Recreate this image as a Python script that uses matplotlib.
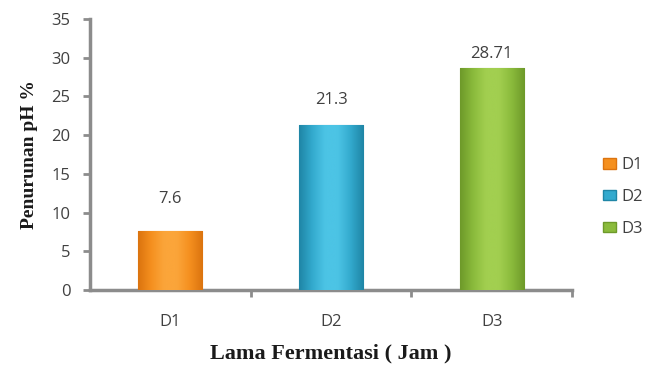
import matplotlib
matplotlib.use("Agg")
import matplotlib.pyplot as plt
import numpy as np
from matplotlib.colors import LinearSegmentedColormap
from matplotlib.patches import Patch

categories = ["D1", "D2", "D3"]
values = [7.6, 21.3, 28.71]
value_labels = ["7.6", "21.3", "28.71"]
yticks = [0, 5, 10, 15, 20, 25, 30, 35]

base_colors = ["#F5901F", "#33AACE", "#8BBB3C"]
dark_colors = ["#DC740F", "#1F86A6", "#6E9A2A"]
light_colors = ["#FBA53A", "#4CC4E5", "#A2CF50"]
label_offsets = [24, 17, 6]  # pixels above bar top

SANS = ["Open Sans", "DejaVu Sans"]

fig = plt.figure(figsize=(6.49, 3.65), dpi=100)
ax = fig.add_axes([90/649, 75/365, 482/649, 271/365])

x = np.arange(len(categories))
bars = ax.bar(x, values, width=0.4, color=base_colors, zorder=2)

for b, dc, bc, lc in zip(bars, dark_colors, base_colors, light_colors):
    cmap = LinearSegmentedColormap.from_list("g", [dc, bc, lc, lc, bc, dc])
    grad = np.linspace(0, 1, 64).reshape(1, -1)
    x0, y0 = b.get_x(), b.get_y()
    w, h = b.get_width(), b.get_height()
    im = ax.imshow(grad, cmap=cmap, extent=[x0, x0 + w, y0, y0 + h],
                   aspect="auto", zorder=3, interpolation="bicubic")
    im.set_clip_path(b)
    b.set_edgecolor(dc)
    b.set_linewidth(0.8)

for b, lab, off in zip(bars, value_labels, label_offsets):
    ax.annotate(lab, (b.get_x() + b.get_width()/2, b.get_height()),
                xytext=(0, off), textcoords="offset pixels",
                ha="center", va="bottom", fontsize=12,
                color="#404040", family=SANS)

ax.set_xlim(-0.5, len(categories) - 0.5)
ax.set_ylim(0, 35)
ax.set_yticks(yticks)
ax.set_xticks(x)
ax.set_xticklabels(categories)
ax.set_xticks([0.5, 1.5, 2.5], minor=True)

for s in ["top", "right"]:
    ax.spines[s].set_visible(False)
for s in ["left", "bottom"]:
    ax.spines[s].set_color("#8C8C8C")
    ax.spines[s].set_linewidth(2.5)

ax.tick_params(axis="y", which="major", length=5, width=2, color="#8C8C8C",
               labelsize=12, labelcolor="#404040", pad=9)
ax.tick_params(axis="x", which="major", length=0, labelsize=12,
               labelcolor="#404040", pad=17)
ax.tick_params(axis="x", which="minor", length=5, width=2, color="#8C8C8C")
for t in ax.get_xticklabels() + ax.get_yticklabels():
    t.set_family(SANS)

ax.set_ylabel("Penurunan pH %", family="Liberation Serif", fontweight="bold",
              fontsize=14, color="#1a1a1a", labelpad=10)
ax.set_xlabel("Lama Fermentasi ( Jam )", family="Liberation Serif",
              fontweight="bold", fontsize=16, color="#1a1a1a", labelpad=10)

handles = [Patch(facecolor=c, edgecolor=d, label=l)
           for c, d, l in zip(base_colors, dark_colors, categories)]
leg = fig.legend(handles=handles, loc="center left",
                 bbox_to_anchor=(588/649, 1 - 197/365), frameon=False,
                 handlelength=0.75, handleheight=0.6,
                 handletextpad=0.35, labelspacing=0.95,
                 prop={"family": SANS, "size": 12})
for t in leg.get_texts():
    t.set_color("#404040")

fig.savefig("out.png", dpi=100, facecolor="white")
